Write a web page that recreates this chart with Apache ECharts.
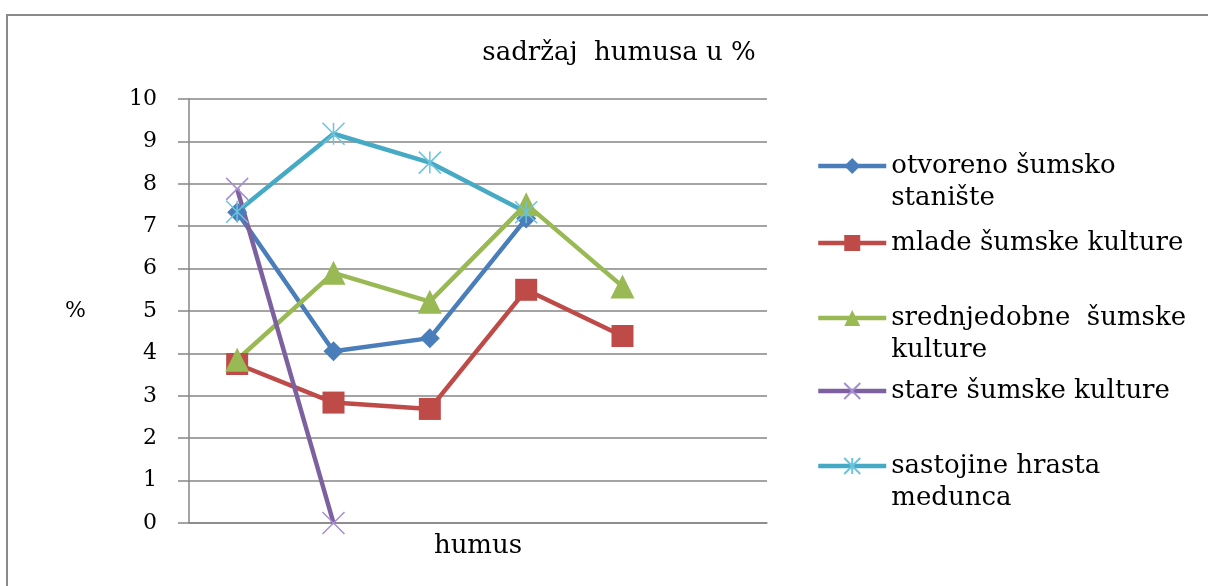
<!DOCTYPE html>
<html>
<head>
<meta charset="utf-8">
<script src="https://cdn.jsdelivr.net/npm/echarts@6/dist/echarts.min.js"></script>
<style>html,body{margin:0;padding:0;background:#fff;}#c{width:1208px;height:586px;}</style>
</head>
<body>
<div id="c"></div>
<script>
const categories = ['', '', '', '', '', ''];
const seriesNames = ['otvoreno šumsko stanište', 'mlade šumske kulture', 'srednjedobne  šumske kulture', 'stare šumske kulture', 'sastojine hrasta medunca'];
const otvoreno = [7.33, 4.05, 4.36, 7.18, null, null];
const mlade = [3.75, 2.84, 2.69, 5.5, 4.41, null];
const srednjedobne = [3.85, 5.9, 5.22, 7.52, 5.58, null];
const stare = [7.88, 0, null, null, null, null];
const sastojine = [7.34, 9.18, 8.5, 7.33, null, null];
const yTicks = { min: 0, max: 10, interval: 1 };

const FONT = 'DejaVu Serif';
const legendText = {
  'otvoreno šumsko stanište': '\notvoreno šumsko\nstanište',
  'mlade šumske kulture': 'mlade šumske kulture',
  'srednjedobne  šumske kulture': '\nsrednjedobne  šumske\nkulture',
  'stare šumske kulture': 'stare šumske kulture',
  'sastojine hrasta medunca': '\nsastojine hrasta\nmedunca'
};
const legendTops = [118, 227, 270, 375, 418];

const chart = echarts.init(document.getElementById('c'));
const xPath = 'path://M0,0L20,20M20,0L0,20';
const starPath = 'path://M0,0L20,20M20,0L0,20M10,0L10,20';

function mk(name, data, color, symbol, size, extra) {
  return Object.assign({
    name: name, type: 'line', data: data, symbol: symbol, symbolSize: size,
    showAllSymbol: true, connectNulls: false,
    lineStyle: { color: color, width: 4.5 },
    itemStyle: { color: color },
    z: 2
  }, extra || {});
}

const option = {
  backgroundColor: '#fff',
  animation: false,
  title: {
    text: 'sadržaj  humusa u %', left: 614, textAlign: 'center', top: 35,
    textStyle: { fontFamily: FONT, fontSize: 26, fontWeight: 'normal', color: '#000' }
  },
  graphic: [{
    type: 'rect', shape: { x: 7, y: 15, width: 1260, height: 620 },
    style: { fill: 'none', stroke: '#8a8a8a', lineWidth: 2 }, silent: true
  }],
  legend: seriesNames.map((n, i) => ({
    data: [n], left: 816, top: legendTops[i], orient: 'vertical', padding: 0,
    itemWidth: 68, itemHeight: 20, itemGap: 5,
    formatter: nm => legendText[nm],
    lineStyle: { width: 4.5 },
    textStyle: { fontFamily: FONT, fontSize: 26, color: '#000', lineHeight: 32 }
  })),
  grid: { left: 189, right: 441, top: 99, bottom: 63 },
  xAxis: {
    type: 'category', data: categories, boundaryGap: true,
    name: 'humus', nameLocation: 'middle', nameGap: 10,
    nameTextStyle: { fontFamily: FONT, fontSize: 26, color: '#000', verticalAlign: 'top' },
    axisLine: { show: true, lineStyle: { color: '#868686', width: 1.5 } },
    axisTick: { show: false }, axisLabel: { show: false }, splitLine: { show: false }
  },
  yAxis: {
    type: 'value', min: yTicks.min, max: yTicks.max, interval: yTicks.interval,
    name: '%', nameLocation: 'middle', nameRotate: 0, nameGap: 103,
    nameTextStyle: { fontFamily: FONT, fontSize: 22, color: '#000' },
    axisLine: { show: true, lineStyle: { color: '#868686', width: 1.5 } },
    axisTick: { show: true, inside: false, length: 11, lineStyle: { color: '#868686', width: 1.5 } },
    axisLabel: { fontFamily: FONT, fontSize: 22, color: '#000', margin: 32 },
    splitLine: { show: true, lineStyle: { color: '#868686', width: 1.5 } }
  },
  series: [
    mk(seriesNames[0], otvoreno, '#4a7ebb', 'diamond', 20),
    mk(seriesNames[1], mlade, '#be4b48', 'rect', 22),
    mk(seriesNames[2], srednjedobne, '#98b954', 'triangle', 24),
    mk(seriesNames[3], stare, '#7d60a0', xPath, 22, {
      itemStyle: { color: '#7d60a0', borderColor: '#a58fd0', borderWidth: 1.5 }
    }),
    mk(seriesNames[4], sastojine, '#46aac5', starPath, 22, {
      itemStyle: { color: '#46aac5', borderColor: '#6cc3dc', borderWidth: 1.5 }
    })
  ]
};
chart.setOption(option);
</script>
</body>
</html>
